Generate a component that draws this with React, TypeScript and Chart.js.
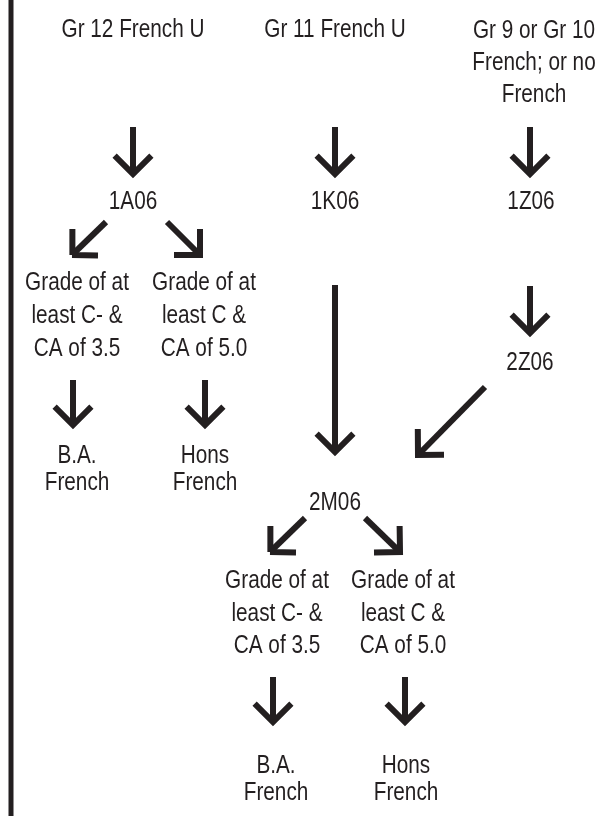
import React, { useEffect, useRef } from "react";
import { Chart, registerables } from "chart.js";

Chart.register(...registerables);

// ---- data (flowchart coordinates in a 597 x 816 grid) ----
const nodeLabels = [
  "Gr 12 French U",
  "Gr 11 French U",
  "Gr 9 or Gr 10\nFrench; or no\nFrench",
  "1A06",
  "1K06",
  "1Z06",
  "Grade of at\nleast C- &\nCA of 3.5",
  "Grade of at\nleast C &\nCA of 5.0",
  "B.A.\nFrench",
  "Hons\nFrench",
  "2Z06",
  "2M06",
  "Grade of at\nleast C- &\nCA of 3.5",
  "Grade of at\nleast C &\nCA of 5.0",
  "B.A.\nFrench",
  "Hons\nFrench",
];
const nodeX = [133, 335, 534, 133, 335, 531, 77, 204, 77, 205, 530, 335, 277, 403, 276, 406];
const nodeY = [37, 37, 38, 209, 209, 209, 290, 290, 463, 463, 370, 510, 588, 588, 773, 773];
const nodeLeading = [32, 32, 32, 32, 32, 32, 33, 33, 27, 27, 32, 32, 32.5, 32.5, 26.5, 26.5];

const arrowFromX = [133, 335, 530, 106, 167, 73, 205, 335, 530, 485, 305, 365, 273, 405];
const arrowFromY = [127, 127, 127, 222, 222, 380, 380, 285, 286, 387, 518, 518, 677, 677];
const arrowToX = [133, 335, 530, 72, 200, 73, 205, 335, 530, 418, 270, 400, 273, 405];
const arrowToY = [174, 174, 174, 255, 255, 425, 425, 452, 333, 455, 552, 552, 722, 722];

const borderX = [11, 11];
const borderY = [0, 816];

const INK = "#231f20";
const FONT = "'Liberation Sans', Arial, sans-serif";
const FONT_SIZE = 25;
const SQUEEZE = 0.83;
const HEAD = 26;

function headPoints(i: number) {
  const x1 = arrowFromX[i], y1 = arrowFromY[i], x2 = arrowToX[i], y2 = arrowToY[i];
  const a = Math.atan2(y1 - y2, x1 - x2);
  const w1 = { x: x2 + HEAD * Math.cos(a + Math.PI / 4), y: y2 + HEAD * Math.sin(a + Math.PI / 4) };
  const w2 = { x: x2 + HEAD * Math.cos(a - Math.PI / 4), y: y2 + HEAD * Math.sin(a - Math.PI / 4) };
  return [w1, { x: x2, y: y2 }, w2];
}

const labelPlugin = {
  id: "flowLabels",
  afterDatasetsDraw(chart: any) {
    const ctx = chart.ctx;
    const xs = chart.scales.x;
    const ys = chart.scales.y;
    ctx.save();
    ctx.fillStyle = INK;
    ctx.font = `${FONT_SIZE}px ${FONT}`;
    ctx.textAlign = "center";
    ctx.textBaseline = "alphabetic";
    nodeLabels.forEach((label, i) => {
      const lines = label.split("\n");
      lines.forEach((ln, j) => {
        const px = xs.getPixelForValue(nodeX[i]);
        const py = ys.getPixelForValue(nodeY[i] + j * nodeLeading[i]);
        ctx.save();
        ctx.translate(px, py);
        ctx.scale(SQUEEZE, 1);
        ctx.fillText(ln, 0, 0);
        ctx.restore();
      });
    });
    ctx.restore();
  },
};

export default function App() {
  const ref = useRef<HTMLCanvasElement>(null);
  useEffect(() => {
    if (!ref.current) return;
    const lineStyle = {
      showLine: true,
      borderColor: INK,
      backgroundColor: INK,
      pointRadius: 0,
      pointHoverRadius: 0,
      fill: false,
      tension: 0,
      borderCapStyle: "butt" as const,
      borderJoinStyle: "miter" as const,
    };
    const datasets: any[] = [];
    datasets.push({
      ...lineStyle,
      borderWidth: 5,
      data: borderX.map((x, i) => ({ x, y: borderY[i] })),
    });
    arrowFromX.forEach((_, i) => {
      datasets.push({
        ...lineStyle,
        borderWidth: 6,
        data: [
          { x: arrowFromX[i], y: arrowFromY[i] },
          { x: arrowToX[i], y: arrowToY[i] },
        ],
      });
      datasets.push({ ...lineStyle, borderWidth: 6, data: headPoints(i) });
    });
    const chart = new Chart(ref.current, {
      type: "scatter",
      data: { datasets },
      options: {
        animation: false,
        responsive: false,
        devicePixelRatio: 1,
        layout: { padding: 0 },
        plugins: { legend: { display: false }, tooltip: { enabled: false } },
        events: [],
        scales: {
          x: { type: "linear", min: 0, max: 597, display: false },
          y: { type: "linear", min: 0, max: 816, reverse: true, display: false },
        },
      },
      plugins: [labelPlugin],
    });
    return () => chart.destroy();
  }, []);
  return (
    <div style={{ position: "absolute", left: 0, top: 0, width: 597, height: 816, background: "#fff" }}>
      <canvas ref={ref} width={597} height={816} style={{ display: "block" }} />
    </div>
  );
}
